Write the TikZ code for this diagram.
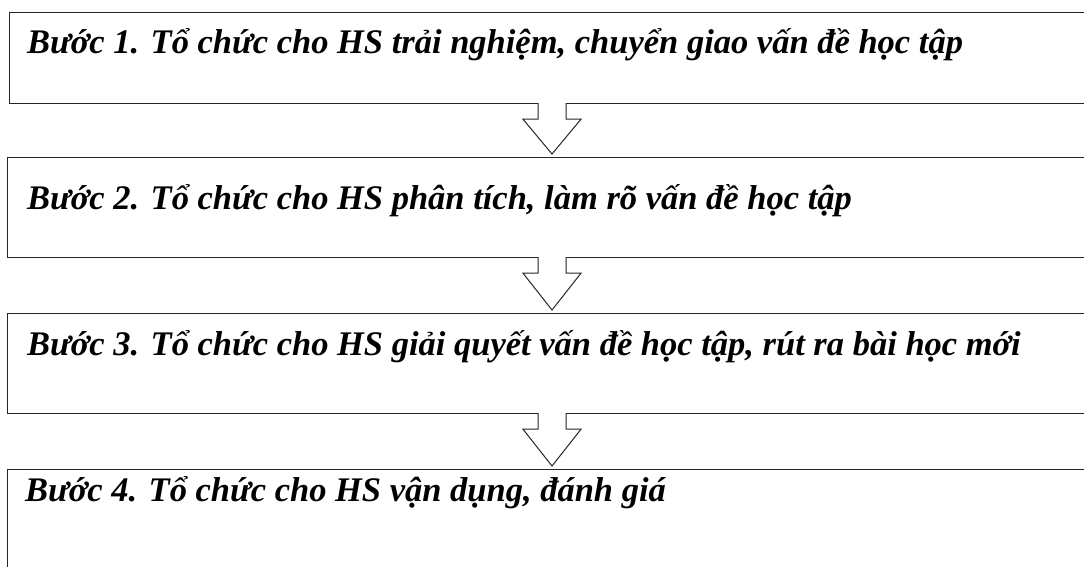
\documentclass[tikz,border=0pt]{standalone}
\usepackage{fontspec}
\setmainfont{Liberation Serif}
\usetikzlibrary{calc}

\begin{document}
\begin{tikzpicture}[x=1pt, y=-1pt,
    stepbox/.style={draw=black!85, line width=1.2pt, fill=white, inner sep=0pt,
      minimum width=1100pt, anchor=north west},
    steptext/.style={anchor=base west, inner sep=0pt,
      font=\fontsize{34.5}{40}\selectfont\bfseries\itshape},
    arrowbox/.style={draw=black!85, line width=1pt, fill=white, line join=miter}]
  \clip (0,0) rectangle (1084,566);
  \fill[white] (0,0) rectangle (1084,566);

  % the four steps
  \node[stepbox, minimum height=91pt] (b1) at (9,12) {};
  \node[stepbox, minimum height=100pt] (b2) at (7,157) {};
  \node[stepbox, minimum height=100pt] (b3) at (7,313) {};
  \node[stepbox, minimum height=130pt] (b4) at (7,469) {};

  \node[steptext] (t1) at ($(b1.north west)+(18,41)$) {Bước 1. Tổ chức cho HS trải nghiệm, chuyển giao vấn đề học tập};
  \node[steptext] (t2) at ($(b2.north west)+(20,52)$) {Bước 2. Tổ chức cho HS phân tích, làm rõ vấn đề học tập};
  \node[steptext] (t3) at ($(b3.north west)+(20,42)$) {Bước 3. Tổ chức cho HS giải quyết vấn đề học tập, rút ra bài học mới};
  \node[steptext] (t4) at ($(b4.north west)+(18,32)$) {Bước 4. Tổ chức cho HS vận dụng, đánh giá};

  % block arrows between the steps
  \coordinate (mid) at (552,0);
  \foreach \from/\to in {b1/b2, b2/b3, b3/b4}
    \draw[arrowbox] ($(\from.south -| mid)+(-14,-1)$) -- ++(0,16) -- ++(-15,0)
      -- ($(\to.north -| mid)+(0,-3)$) -- ($(\from.south -| mid)+(29,15)$)
      -- ++(-15,0) -- ++(0,-16);
\end{tikzpicture}
\end{document}
